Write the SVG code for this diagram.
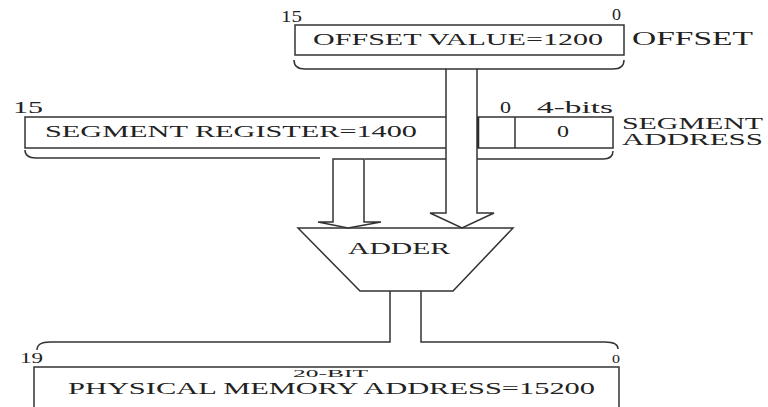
<svg xmlns="http://www.w3.org/2000/svg" width="768" height="407" viewBox="0 0 768 407">
<style>
.ln{fill:none;stroke:#333;stroke-width:1.5}
.ar{fill:#fff;stroke:#333;stroke-width:1.5;stroke-linejoin:miter}
text{font-family:"Liberation Serif","Times New Roman",serif;fill:#222}
</style>
<rect width="768" height="407" fill="#fff"/>
<g id="offset">
<rect class="ln" x="295" y="25" width="329" height="30"/>
<text x="281" y="22" font-size="17" textLength="21" lengthAdjust="spacingAndGlyphs">15</text>
<text x="612" y="20" font-size="17" textLength="9" lengthAdjust="spacingAndGlyphs">0</text>
<text x="313" y="45" font-size="17" textLength="290" lengthAdjust="spacingAndGlyphs">OFFSET VALUE=1200</text>
<text x="632" y="45" font-size="18" textLength="121" lengthAdjust="spacingAndGlyphs">OFFSET</text>
</g>
<g id="segment-register">
<path class="ln" d="M446,117 H25 V148 H446"/>
<text x="13" y="113" font-size="17" textLength="30" lengthAdjust="spacingAndGlyphs">15</text>
<text x="45" y="137" font-size="17" textLength="372" lengthAdjust="spacingAndGlyphs">SEGMENT REGISTER=1400</text>
</g>
<g id="segment-address">
<rect class="ln" x="478" y="117" width="135" height="31"/>
<line class="ln" x1="515" y1="117" x2="515" y2="148"/>
<line x1="478" y1="117" x2="478" y2="148" stroke="#111" stroke-width="2.5"/>
<text x="500" y="113" font-size="17" textLength="11" lengthAdjust="spacingAndGlyphs">0</text>
<text x="537" y="113" font-size="17" textLength="76" lengthAdjust="spacingAndGlyphs">4-bits</text>
<text x="557" y="137" font-size="17" textLength="12" lengthAdjust="spacingAndGlyphs">0</text>
<text x="622" y="129" font-size="16" textLength="141" lengthAdjust="spacingAndGlyphs">SEGMENT</text>
<text x="622" y="145" font-size="16" textLength="141" lengthAdjust="spacingAndGlyphs">ADDRESS</text>
</g>
<g id="adder">
<polygon class="ln" points="298,228 513,228 453,291 360,291"/>
<text x="348" y="254" font-size="16" textLength="102" lengthAdjust="spacingAndGlyphs">ADDER</text>
</g>
<g id="physical-address">
<path class="ln" d="M34,407 V367 H619 V407"/>
<text x="20" y="363" font-size="14" textLength="23" lengthAdjust="spacingAndGlyphs">19</text>
<text x="612" y="363" font-size="13" textLength="8" lengthAdjust="spacingAndGlyphs">0</text>
<text x="293" y="377" font-size="11" textLength="75" lengthAdjust="spacingAndGlyphs">20-BIT</text>
<text x="68" y="394" font-size="16" textLength="527" lengthAdjust="spacingAndGlyphs">PHYSICAL MEMORY ADDRESS=15200</text>
</g>
<g id="connectors">
<path class="ln" d="M294,60 Q294,69 305,69 H446"/>
<path class="ln" d="M477,69 H613 Q624,69 624,60"/>
<path class="ln" d="M25,150 Q25,158 36,158 H320"/>
<path class="ln" d="M365,159 H446"/>
<path class="ln" d="M477,159 H603 Q613,159 613,151"/>
<polygon class="ar" points="333,159 333,222 318,222 348,228 381,222 364,222 364,159"/>
<polygon class="ar" points="446,69 446,213 430,213 462,228 494,213 477,213 477,69"/>
<line class="ln" x1="478" y1="117" x2="478" y2="148"/>
<path class="ln" d="M390,291 V342 H50 Q37,342 37,350"/>
<path class="ln" d="M421,291 V342 H605 Q618,342 618,349"/>
</g>
</svg>
